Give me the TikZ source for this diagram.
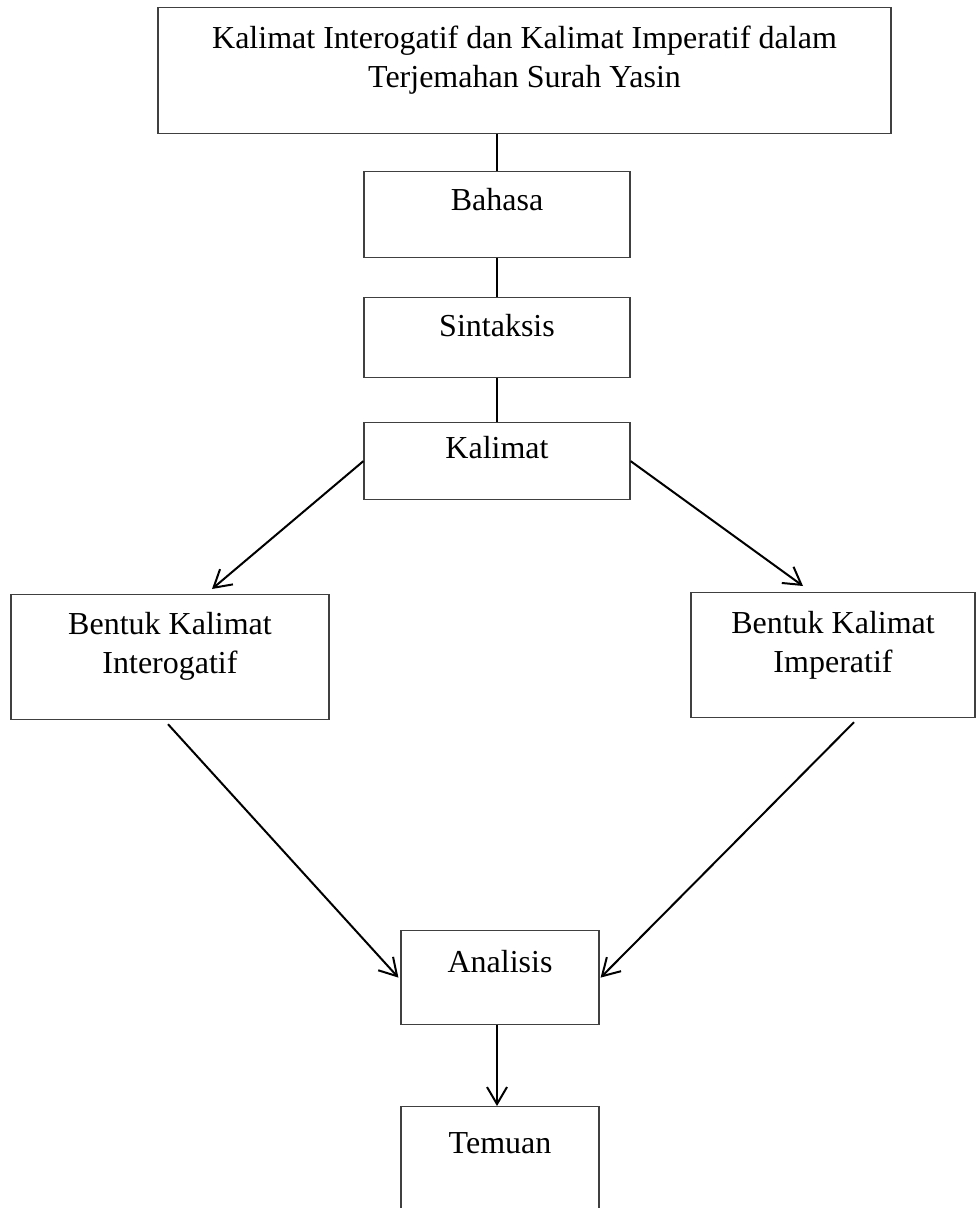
\documentclass[tikz,border=0pt]{standalone}
\usepackage{fontspec}
\setmainfont{Liberation Serif}
\usetikzlibrary{positioning, arrows.meta}
\tikzset{
x=0.5pt, y=-0.5pt, % one unit is one pixel, counted from the top
>={Straight Barb[length=8.5pt, width=10pt]}, % open arrow heads
box/.style={draw=black!75, line width=0.6pt, anchor=north, inner sep=0pt, align=center, font=\fontsize{16pt}{19.5pt}\selectfont}, % every box of the chart
link/.style={line width=1pt}, % the lines between the boxes
}
\begin{document}
\begin{tikzpicture}
    \useasboundingbox (0,0) rectangle (977,1208);

    \node[box, minimum width=366.5pt, text height=40pt, text depth=23pt] (judul) at (524.5,7) {Kalimat Interogatif dan Kalimat Imperatif dalam\\Terjemahan Surah Yasin};
    \node[box, minimum width=133pt, text height=19.5pt, text depth=23.5pt] (bahasa) at (497,171) {Bahasa};
    \node[box, minimum width=133pt, text height=19.5pt, text depth=20.5pt] (sintaksis) at (497,297) {Sintaksis};
    \node[box, minimum width=133pt, text height=18pt, text depth=20.5pt] (kalimat) at (497,422) {Kalimat};
    \node[box, minimum width=159pt, text height=39.5pt, text depth=23pt] (interogatif) at (170,594) {Bentuk Kalimat\\Interogatif};
    \node[box, minimum width=142pt, text height=40pt, text depth=22.5pt] (imperatif) at (833,592) {Bentuk Kalimat\\Imperatif};
    \node[box, minimum width=99pt, text height=21pt, text depth=26pt] (analisis) at (500,930) {Analisis};
    \node[box, minimum width=99pt, text height=23.5pt, text depth=43.5pt] (temuan) at (500,1106) {Temuan};

    \draw[link] (judul.south -| bahasa.north) -- (bahasa.north);
    \draw[link] (bahasa) -- (sintaksis);
    \draw[link] (sintaksis) -- (kalimat);
    \draw[link, ->] (kalimat.west) -- ([xshift=21pt, yshift=2.5pt]interogatif.north);
    \draw[link, ->] (kalimat.east) -- ([xshift=-15pt, yshift=3pt]imperatif.north);
    \draw[link, ->] ([xshift=-1pt, yshift=-2pt]interogatif.south) -- ([xshift=-1pt]analisis.west);
    \draw[link, ->] ([xshift=10.5pt, yshift=-2pt]imperatif.south) -- ([xshift=0.5pt]analisis.east);
    \draw[link, ->] (analisis.south -| 497,0) -- (temuan.north -| 497,0);
\end{tikzpicture}
\end{document}
